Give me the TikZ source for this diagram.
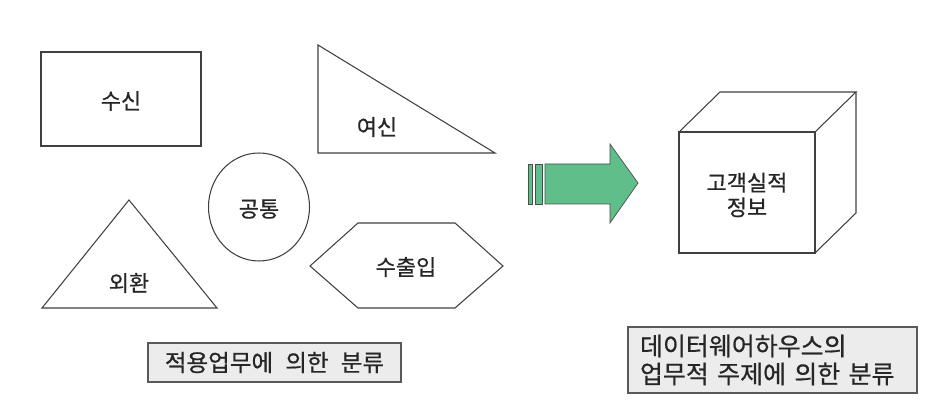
\documentclass[tikz,border=0pt]{standalone}
\usepackage{fontspec}
\setmainfont[FakeBold=0.6]{Noto Sans CJK KR}
\newfontfamily\tagfont[WordSpace=2.3,FakeBold=0.6]{Noto Sans CJK KR}
\usetikzlibrary{positioning,shapes.geometric}
\definecolor{arrowgreen}{RGB}{96,190,138}
\definecolor{boxgray}{RGB}{236,236,236}

\begin{document}
\begin{tikzpicture}[x=0.02cm, y=-0.02cm,
    every node/.style={font=\fontsize{12.5}{14}\selectfont, inner sep=0pt, text=black!85},
    outline/.style={draw=black!75, line width=0.6pt},
    tagbox/.style={draw=black!65, line width=0.9pt, fill=boxgray,
                   font=\tagfont\fontsize{13.4}{15.9}\selectfont}]
  \useasboundingbox (0,0) rectangle (936,411);
  % application areas
  \draw[outline] (41,52) rectangle (201,146);
  \node (deposit) at (121,101) {수신};
  \draw[outline] (318,45) -- (318,153) -- (495,153) -- cycle;
  \node (loan) at (377,127) {여신};
  \draw[outline] (259,207) ellipse [x radius=1.01cm, y radius=1.08cm];
  \node (common) at (259,209) {공통};
  \draw[outline] (129,200) -- (42,308) -- (217,308) -- cycle;
  \node (forex) at (129,283) {외환};
  \draw[outline] (310,266) -- (358,223) -- (455,223) -- (503,266)
                 -- (455,308) -- (358,308) -- cycle;
  \node (trade) at (406,267) {수출입};
  \node (apptag) [tagbox, minimum width=5.06cm, minimum height=0.78cm]
        at (274.5,362.5) {적용업무에 의한 분류};
  % block arrow
  \draw[draw=black!70, fill=arrowgreen] (528,164) rectangle (532,204);
  \draw[draw=black!70, fill=arrowgreen] (535,164) rectangle (542,204);
  \draw[draw=black!70, fill=arrowgreen] (545,164) -- (610,164) -- (610,144)
       -- (638,183) -- (610,223) -- (610,204) -- (545,204) -- cycle;
  % subject cube
  \draw[outline] (679,132) rectangle (815,253);
  \draw[outline] (679,132) -- (720,92) -- (856,92) -- (815,132);
  \draw[outline] (815,253) -- (856,213) -- (856,92);
  \node (custinfo) [align=center] at (747,195) {고객실적\\정보};
  \node (dwtag) [tagbox, font=\tagfont\fontsize{14.2}{15.9}\selectfont,
        text width=5.3cm, minimum height=1.32cm,
        inner xsep=0.24cm, align=left] at (772.5,360)
        {데이터웨어하우스의\\업무적 주제에 의한 분류};
\end{tikzpicture}
\end{document}
